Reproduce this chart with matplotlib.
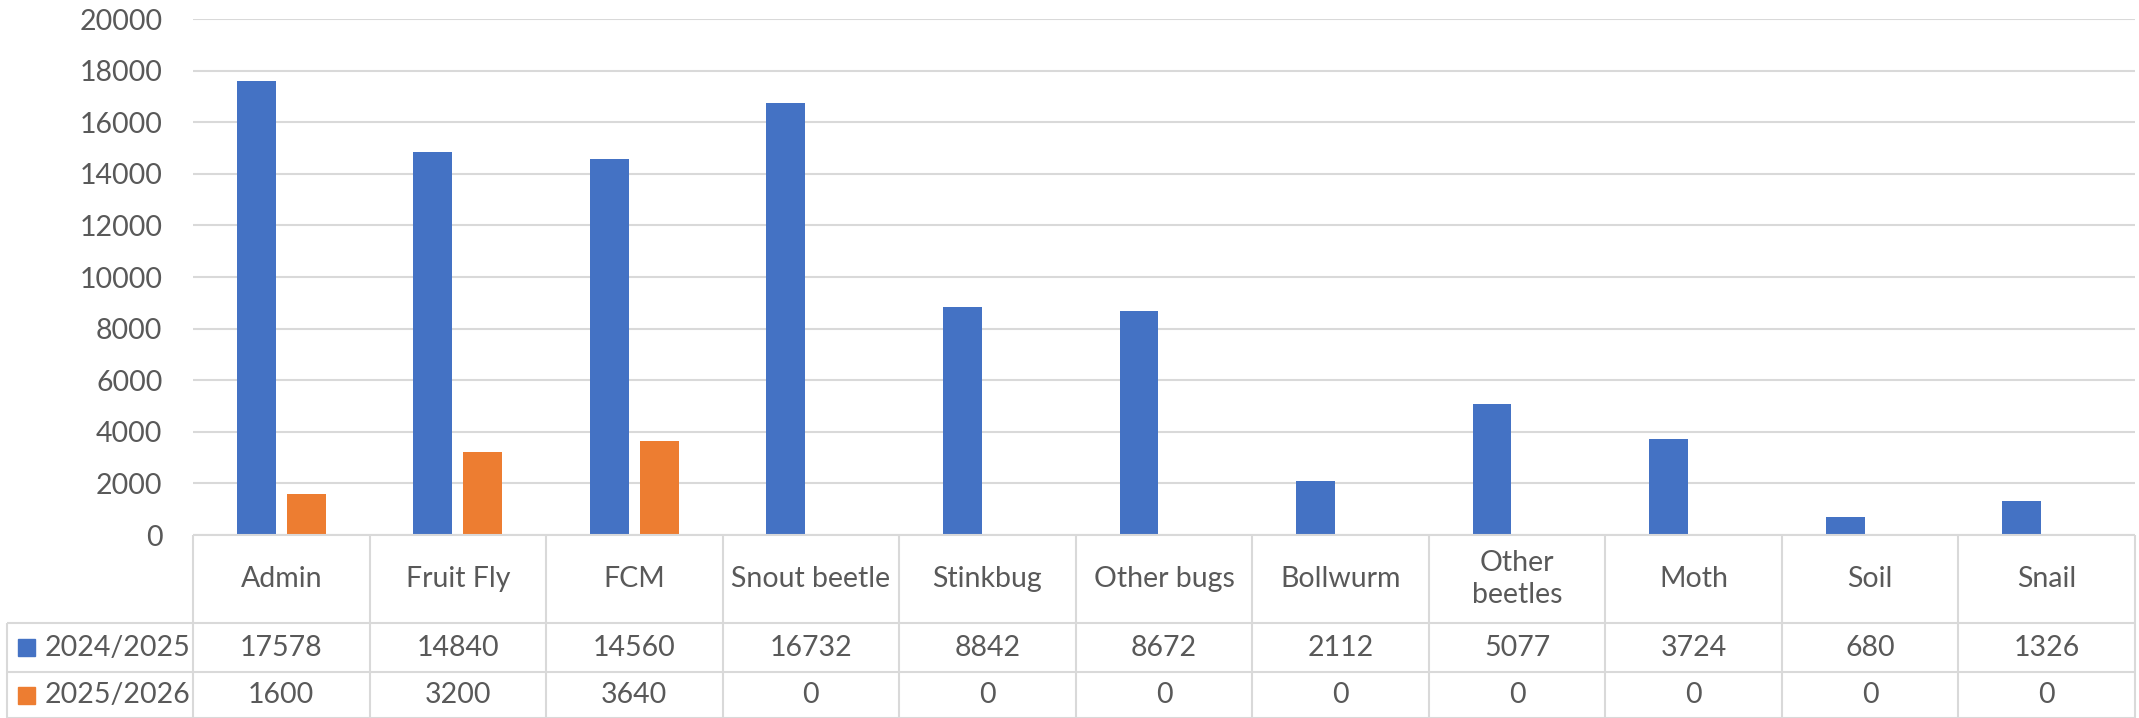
import matplotlib
matplotlib.use("Agg")
import matplotlib.pyplot as plt
from matplotlib.patches import Rectangle

categories = ["Admin", "Fruit Fly", "FCM", "Snout beetle", "Stinkbug", "Other bugs",
              "Bollwurm", "Other\nbeetles", "Moth", "Soil", "Snail"]
series_names = ["2024/2025", "2025/2026"]
values_2024 = [17578, 14840, 14560, 16732, 8842, 8672, 2112, 5077, 3724, 680, 1326]
values_2025 = [1600, 3200, 3640, 0, 0, 0, 0, 0, 0, 0, 0]
yticks = [0, 2000, 4000, 6000, 8000, 10000, 12000, 14000, 16000, 18000, 20000]

colors = ["#4472C4", "#ED7D31"]
text_color = "#595959"
grid_color = "#D9D9D9"
plt.rcParams['font.family'] = ['Lato', 'DejaVu Sans']
FS = 20.5

W, H = 2139, 718
fig = plt.figure(figsize=(W / 100, H / 100), dpi=100)

x_left, x_right = 193, 2135
y_top, y_zero = 19, 535
ax = fig.add_axes([x_left / W, (H - y_zero) / H, (x_right - x_left) / W, (y_zero - y_top) / H])
n = len(categories)
xs = list(range(n))
bw = 0.22
off = 0.142
ax.bar([x - off for x in xs], values_2024, width=bw, color=colors[0], zorder=3)
ax.bar([x + off for x in xs], values_2025, width=bw, color=colors[1], zorder=3)
ax.set_xlim(-0.5, n - 0.5)
ax.set_ylim(0, 20000)
ax.set_yticks(yticks)
ax.set_yticklabels([str(t) for t in yticks])
ax.tick_params(axis='y', length=0, pad=22, labelsize=FS, labelcolor=text_color)
ax.set_xticks([])
for s in ax.spines.values():
    s.set_visible(False)
ax.grid(axis='y', color=grid_color, linewidth=1.5, zorder=0)

# data table
tax = fig.add_axes([x_left / W, 0, (x_right - x_left) / W, (H - y_zero) / H], sharex=ax)
tax.set_ylim(H, y_zero)
tax.axis('off')
unit = (x_right - x_left) / n
leg_left = -0.5 - (x_left - 7) / unit
r1, r2, r3 = 623, 672, 718
lw = 1.5
kw = dict(color=grid_color, linewidth=lw, clip_on=False, solid_capstyle='butt')
# horizontal lines
tax.plot([-0.5, n - 0.5], [y_zero, y_zero], **kw)
for yy in (r1, r2):
    tax.plot([leg_left, n - 0.5], [yy, yy], **kw)
tax.plot([leg_left, n - 0.5], [r3 - 0.5, r3 - 0.5], **kw)
# vertical lines
for i in range(n + 1):
    tax.plot([i - 0.5, i - 0.5], [y_zero, r3], **kw)
tax.plot([leg_left, leg_left], [r1, r3], **kw)

for i, c in enumerate(categories):
    tax.text(i, (y_zero + r1) / 2, c, ha='center', va='center', fontsize=FS,
             color=text_color, linespacing=1.3)
    tax.text(i, (r1 + r2) / 2, str(values_2024[i]), ha='center', va='center',
             fontsize=FS, color=text_color)
    tax.text(i, (r2 + r3) / 2, str(values_2025[i]), ha='center', va='center',
             fontsize=FS, color=text_color)

for k, (name, yy0, yy1) in enumerate([(series_names[0], r1, r2), (series_names[1], r2, r3)]):
    yc = (yy0 + yy1) / 2
    sq = 17 / unit
    sx = leg_left + 11 / unit
    tax.add_patch(Rectangle((sx, yc - 8.5), sq, 17, color=colors[k], clip_on=False))
    tax.text(leg_left + 38 / unit, yc, name, ha='left', va='center', fontsize=FS,
             color=text_color)

fig.savefig("out.png", dpi=100)
